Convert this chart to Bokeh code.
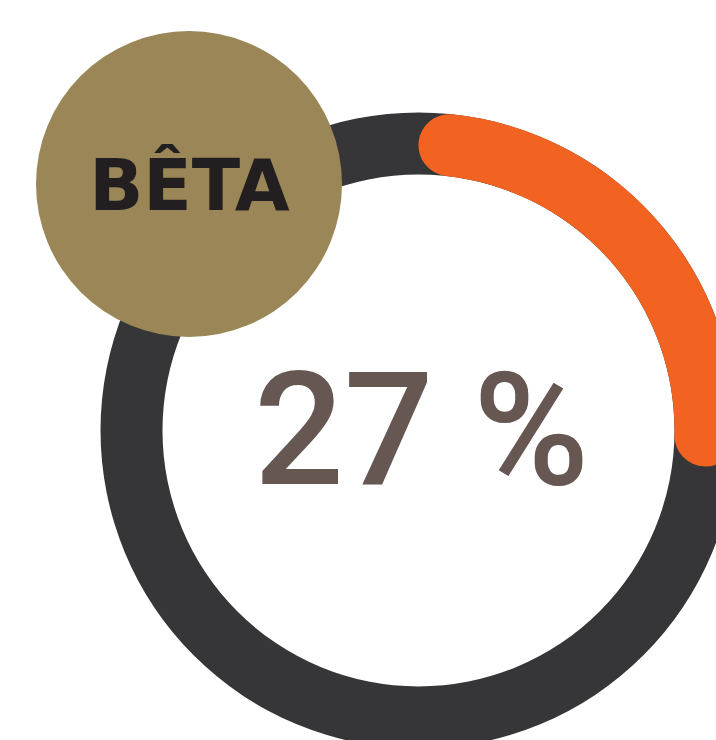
import math
from bokeh.plotting import figure
from bokeh.models import Range1d
from bokeh.core.properties import value
from bokeh.embed import file_html
from bokeh.resources import INLINE

# Data
share_pct = 27
value_label = "27 %"
badge_label = "BÊTA"

W, H = 716, 740
p = figure(width=W, height=H, output_backend="svg", toolbar_location=None,
           x_range=Range1d(-418, 298), y_range=Range1d(-310, 430),
           min_border=0, x_axis_location=None, y_axis_location=None)
p.grid.visible = False
p.outline_line_color = None
p.background_fill_color = "white"
p.border_fill_color = "white"

r_in, r_out = 256, 318
r_mid = (r_in + r_out) / 2
thick = r_out - r_in

# track
p.annulus(x=[0], y=[0], inner_radius=r_in, outer_radius=r_out,
          fill_color="#363638", line_color=None)

# progress arc (clockwise from 12 o'clock), round caps inset so total extent = share
cap = (thick / 2) / r_mid
start = math.pi / 2 - cap
end = math.pi / 2 - 2 * math.pi * share_pct / 100 + cap
p.arc(x=[0], y=[0], radius=r_mid, start_angle=start, end_angle=end,
      direction="clock", line_width=thick, line_color="#f26322", line_cap="round")

# badge
p.circle(x=[-229.5], y=[246.5], radius=153, fill_color="#9a8656", line_color=None)
p.text(x=[-229], y=[245], text=[badge_label], text_align="center",
       text_baseline="alphabetic", text_font=value("DejaVu Sans"),
       text_font_style="bold", text_font_size="71px", text_color="#231f20")

# center value
p.text(x=[3], y=[1], text=[value_label], text_align="center",
       text_baseline="alphabetic", text_font=value("Roboto Medium, Roboto"),
       text_font_size="158px", text_color="#665752")

open("out.html", "w").write(file_html(p, INLINE))
